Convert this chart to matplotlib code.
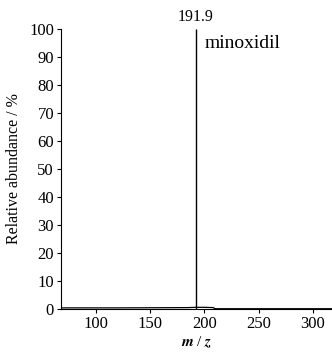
import matplotlib
matplotlib.use("Agg")
import matplotlib.pyplot as plt

# baseline trace (m/z, relative abundance) and the base peak
mz = [68, 120, 185, 191.9, 200, 208, 210, 320]
abundance = [0.4, 0.4, 0.5, 0.6, 0.6, 0.5, 0.1, 0.1]
peak_mz = 191.9
peak_height = 100
peak_label = "191.9"
compound = "minoxidil"
xticks = [100, 150, 200, 250, 300]
yticks = list(range(0, 101, 10))

plt.rcParams["font.family"] = ["Liberation Serif", "DejaVu Serif"]
plt.rcParams["mathtext.fontset"] = "stix"

fig = plt.figure(figsize=(3.32, 3.52), dpi=100)
ax = fig.add_axes([61 / 332, 43 / 352, 271 / 332, 280 / 352])

ax.plot(mz, abundance, color="black", linewidth=0.9)
ax.vlines(peak_mz, 0, peak_height, color="black", linewidth=1.0)
ax.text(peak_mz, 101.5, peak_label, ha="center", va="bottom", fontsize=11.5)
ax.text(0.53, 0.95, compound, transform=ax.transAxes, ha="left", va="center", fontsize=14)

ax.set_xlim(68, 317.5)
ax.set_ylim(0, 100)
ax.set_xticks(xticks)
ax.set_yticks(yticks)
ax.tick_params(labelsize=12, length=3, width=0.8, direction="out", pad=2)
for side in ("top", "right"):
    ax.spines[side].set_visible(False)
for side in ("left", "bottom"):
    ax.spines[side].set_linewidth(0.8)

ax.set_xlabel(r"$\boldsymbol{m}$ / $\boldsymbol{z}$", fontsize=11, labelpad=2)
ax.set_ylabel("Relative abundance / %", fontsize=11.5, labelpad=5)

fig.savefig("out.png", dpi=100)
